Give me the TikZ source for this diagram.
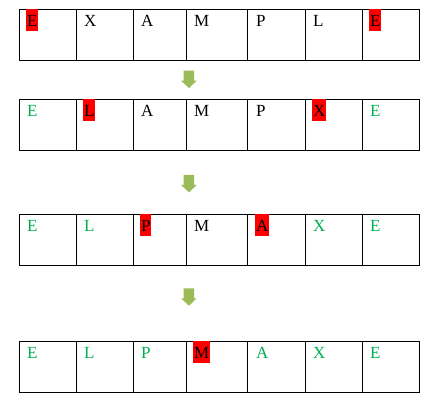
\documentclass[tikz,border=0pt]{standalone}
\usepackage{fontspec}
\setmainfont{Liberation Serif}
\definecolor{hlred}{HTML}{FF0000}
\definecolor{okgreen}{HTML}{00B050}
\definecolor{arrowgreen}{HTML}{9BBB59}
\begin{document}
\begin{tikzpicture}[x=1pt,y=-1pt,
  cellrow/.style={draw=black,line width=0.9pt},
  letter/.style={anchor=north west,inner xsep=0.9pt,inner ysep=0pt,text height=17.3pt,text depth=4.2pt,font=\fontsize{17}{20}\selectfont},
  hl/.style={fill=hlred,text=black},
  done/.style={text=okgreen},
  plain/.style={text=black},
  downarrow/.style={fill=arrowgreen,draw=none}]
\useasboundingbox (0,0) rectangle (448,414);
\def\colx{{19.7,76.3,133.3,186.3,247.3,305.3,362.3,419.3}}
% rows
\foreach \t/\b in {9.3/60.3, 99.3/150, 214.3/265.3, 341.3/392.3}{
  \draw[cellrow] (19.7,\t) rectangle (419.3,\b);
  \foreach \x in {76.3,133.3,186.3,247.3,305.3,362.3}
    \draw[cellrow] (\x,\t) -- (\x,\b);
}
% row 1
\node[letter,hl]    (r1c1) at (26,9.3)  {E};
\node[letter,plain] (r1c2) at (83,9.3)  {X};
\node[letter,plain] (r1c3) at (140,9.3) {A};
\node[letter,plain] (r1c4) at (193,9.3) {M};
\node[letter,plain] (r1c5) at (255,9.3) {P};
\node[letter,plain] (r1c6) at (312,9.3) {L};
\node[letter,hl]    (r1c7) at (369,9.3) {E};
% row 2
\node[letter,done]  (r2c1) at (26,99.3)  {E};
\node[letter,hl]    (r2c2) at (83,99.3)  {L};
\node[letter,plain] (r2c3) at (140,99.3) {A};
\node[letter,plain] (r2c4) at (193,99.3) {M};
\node[letter,plain] (r2c5) at (255,99.3) {P};
\node[letter,hl]    (r2c6) at (312,99.3) {X};
\node[letter,done]  (r2c7) at (369,99.3) {E};
% row 3
\node[letter,done]  (r3c1) at (26,214.3)  {E};
\node[letter,done]  (r3c2) at (83,214.3)  {L};
\node[letter,hl]    (r3c3) at (140,214.3) {P};
\node[letter,plain] (r3c4) at (193,214.3) {M};
\node[letter,hl]    (r3c5) at (255,214.3) {A};
\node[letter,done]  (r3c6) at (312,214.3) {X};
\node[letter,done]  (r3c7) at (369,214.3) {E};
% row 4
\node[letter,done]  (r4c1) at (26,341.3)  {E};
\node[letter,done]  (r4c2) at (83,341.3)  {L};
\node[letter,done]  (r4c3) at (140,341.3) {P};
\node[letter,hl]    (r4c4) at (193,341.3) {M};
\node[letter,done]  (r4c5) at (255,341.3) {A};
\node[letter,done]  (r4c6) at (312,341.3) {X};
\node[letter,done]  (r4c7) at (369,341.3) {E};
% arrows
\foreach \t/\h/\e in {70.7/80.7/88, 175/185/192.3, 288.3/298.3/305.7}{
  \fill[downarrow] (183.7,\t) -- (194,\t) -- (194,\h) -- (196.7,\h) -- (189,\e) -- (181,\h) -- (183.7,\h) -- cycle;
}
\end{tikzpicture}
\end{document}
